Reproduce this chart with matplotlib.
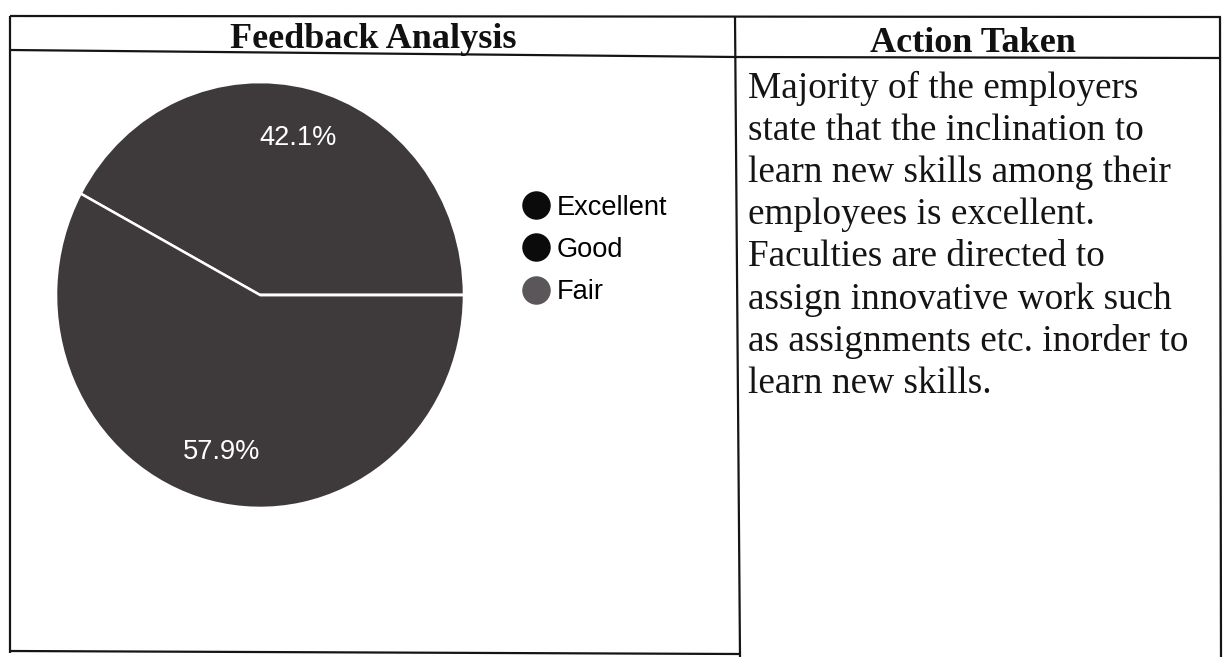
import matplotlib.pyplot as plt
from matplotlib.lines import Line2D

# data
labels = ["Excellent", "Good", "Fair"]
shares = [42.1, 57.9, 0.0]
pie_colors = ["#3e3a3b", "#3e3a3b", "#5b5659"]
legend_colors = ["#0c0b0b", "#0c0b0b", "#5b5659"]

headers = ["Feedback Analysis", "Action Taken"]
action_lines = [
    "Majority of the employers",
    "state that the inclination to",
    "learn new skills among their",
    "employees is excellent.",
    "Faculties are directed to",
    "assign innovative work such",
    "as assignments etc. inorder to",
    "learn new skills.",
]

W, H = 1223, 657
fig = plt.figure(figsize=(W / 100, H / 100), dpi=100)
fig.patch.set_facecolor("white")

# background axes in pixel coordinates for the table
bg = fig.add_axes([0, 0, 1, 1])
bg.set_xlim(0, W)
bg.set_ylim(H, 0)
bg.axis("off")

line_kw = dict(color="#161414", lw=1.6, solid_capstyle="butt")
bg.plot([10, 1221], [16, 17], **line_kw)                   # top
bg.plot([10, 736, 1221], [50, 57, 58], **line_kw)           # header bottom
bg.plot([10, 10], [16, 653], **line_kw)                    # left
bg.plot([1220, 1221], [17, 657], **line_kw)                # right
bg.plot([735, 740], [16, 657], **line_kw)                  # column divider
bg.plot([10, 740], [651, 654], **line_kw)                  # bottom of left cell

serif = ["Liberation Serif", "DejaVu Serif"]
bg.text(373, 48, headers[0], ha="center", va="baseline", fontsize=26,
        fontweight="bold", family=serif, color="#111")
bg.text(973, 52, headers[1], ha="center", va="baseline", fontsize=26,
        fontweight="bold", family=serif, color="#111")

for i, txt in enumerate(action_lines):
    bg.text(748, 88 + i * 42.3, txt, ha="left", va="center", fontsize=26.8,
            family=serif, color="#151313")

# pie (slightly elliptical like the scan)
cx, cy, rx, ry = 260, 295, 205, 214
pax = fig.add_axes([(cx - rx) / W, 1 - (cy + ry) / H, 2 * rx / W, 2 * ry / H])
wedges, texts, autotexts = pax.pie(
    shares, colors=pie_colors, startangle=0, counterclock=True,
    autopct=lambda p: f"{p:.1f}%" if p > 0 else "", pctdistance=0.76,
    wedgeprops=dict(edgecolor="white", linewidth=1.8),
    textprops=dict(color="white", fontsize=19.6, family=["Liberation Sans", "DejaVu Sans"]),
)
pax.set_aspect("auto")
pax.set_xlim(-1.005, 1.005)
pax.set_ylim(-1.005, 1.005)

handles = [Line2D([], [], marker="o", linestyle="none", markersize=19.5,
                  markerfacecolor=c, markeredgecolor=c) for c in legend_colors]
fig.legend(handles, labels, loc="upper left", bbox_to_anchor=(506 / W, 1 - 181 / H),
           frameon=False, prop=dict(family="Liberation Sans", size=19.6),
           handletextpad=0.15, labelspacing=0.6, handlelength=1.2, borderpad=0)

fig.savefig("out.png", dpi=100, facecolor="white")
